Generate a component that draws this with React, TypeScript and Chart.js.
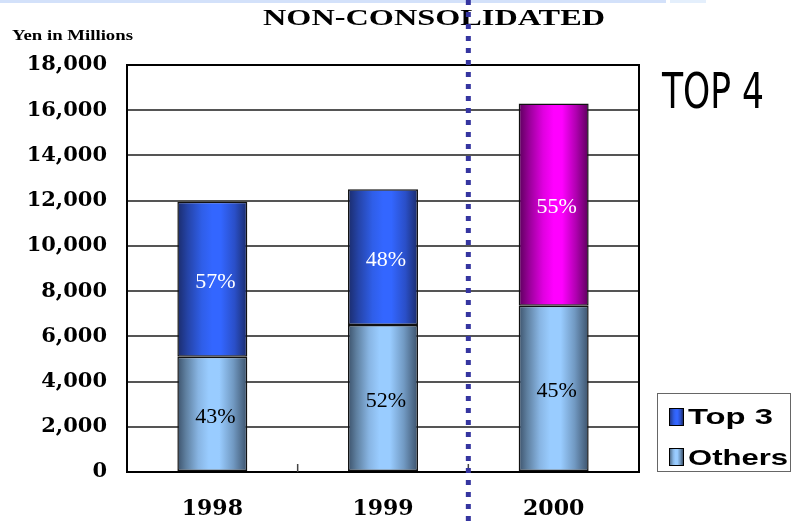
import React, { useEffect, useRef } from "react";
import { Chart, registerables } from "chart.js";

Chart.register(...registerables);

const years = ["1998", "1999", "2000"];
const othersValues = [5100, 6500, 7350];
const top3Values = [6850, 6000, 8950];
const othersPct = ["43%", "52%", "45%"];
const top3Pct = ["57%", "48%", "55%"];
const seriesLabels = ["Others", "Top 3"];
const yTicksMax = 18000;
const yTickStep = 2000;
const titleText = "NON-CONSOLIDATED";
const unitText = "Yen in Millions";
const sideText = "TOP 4";

type Stop = [number, string];
const othersStops: Stop[] = [
  [0, "#3c526b"], [0.12, "#5e7f9f"], [0.3, "#88b5e3"], [0.45, "#99ccff"],
  [0.6, "#99ccff"], [0.8, "#7199c2"], [1, "#3c526b"],
];
const top3Stops: Stop[] = [
  [0, "#1b2c6b"], [0.15, "#2544a8"], [0.35, "#2f5ee8"], [0.5, "#3366ff"],
  [0.62, "#3366ff"], [0.82, "#2a4fc8"], [1, "#1b2c6b"],
];
const magentaStops: Stop[] = [
  [0, "#5c005c"], [0.15, "#990099"], [0.35, "#e000e0"], [0.5, "#ff00ff"],
  [0.62, "#ff00ff"], [0.82, "#b000b0"], [1, "#5c005c"],
];

const CAT_PCT = 0.41;

function gradientFor(chart: any, x0: number, x1: number, stops: Stop[]) {
  const g = chart.ctx.createLinearGradient(x0, 0, x1, 0);
  stops.forEach(([o, c]) => g.addColorStop(o, c));
  return g;
}

function barGradient(c: any, stopsFn: (i: number) => Stop[]) {
  const chart = c.chart;
  const xs = chart.scales && chart.scales.x;
  const stops = stopsFn(c.dataIndex);
  if (!xs || xs.width === undefined || !chart.chartArea) return stops[3][1];
  const cx = xs.getPixelForValue(c.dataIndex);
  const w = (xs.width / years.length) * CAT_PCT;
  return gradientFor(chart, cx - w / 2, cx + w / 2, stops);
}

function drawStretched(ctx: CanvasRenderingContext2D, text: string, font: string, left: number, baseline: number, width: number) {
  ctx.save();
  ctx.font = font;
  ctx.textAlign = "left";
  ctx.textBaseline = "alphabetic";
  const m = ctx.measureText(text).width;
  ctx.translate(left, baseline);
  ctx.scale(width / m, 1);
  ctx.fillText(text, 0, 0);
  ctx.restore();
}

const decorPlugin = {
  id: "decor",
  beforeDraw(chart: any) {
    const ctx = chart.ctx;
    ctx.save();
    ctx.fillStyle = "#ffffff";
    ctx.fillRect(0, 0, chart.width, chart.height);
    ctx.fillStyle = "#d3e1fa";
    ctx.fillRect(0, 0, 666, 3);
    ctx.fillStyle = "#e4effc";
    ctx.fillRect(670, 0, 36, 3);
    ctx.restore();
  },
  afterDatasetsDraw(chart: any) {
    const ctx = chart.ctx;
    const { left, right, top, bottom } = chart.chartArea;
    const xs = chart.scales.x;
    ctx.save();
    ctx.strokeStyle = "#000";
    ctx.lineWidth = 2;
    ctx.beginPath();
    ctx.moveTo(left, top);
    ctx.lineTo(right, top);
    ctx.lineTo(right, bottom);
    ctx.stroke();
    ctx.strokeStyle = "#444";
    ctx.lineWidth = 1.5;
    for (let i = 0; i < years.length - 1; i++) {
      const bx = (xs.getPixelForValue(i) + xs.getPixelForValue(i + 1)) / 2;
      ctx.beginPath();
      ctx.moveTo(bx, bottom);
      ctx.lineTo(bx, bottom - 8);
      ctx.stroke();
    }
    ctx.font = "22px 'Liberation Serif', 'Times New Roman', serif";
    ctx.textAlign = "center";
    ctx.textBaseline = "middle";
    const pctSets = [othersPct, top3Pct];
    const colors = ["#000000", "#ffffff"];
    chart.data.datasets.forEach((_: any, di: number) => {
      const meta = chart.getDatasetMeta(di);
      meta.data.forEach((el: any, i: number) => {
        const cy = (el.y + el.base) / 2;
        ctx.fillStyle = colors[di];
        ctx.fillText(pctSets[di][i], el.x + 3, cy + 3);
      });
    });
    ctx.restore();
  },
  afterDraw(chart: any) {
    const ctx = chart.ctx;
    const xs = chart.scales.x;
    ctx.save();
    ctx.fillStyle = "#000";
    drawStretched(ctx, titleText, "bold 23px 'Liberation Serif', serif", 263, 25, 342);
    drawStretched(ctx, unitText, "bold 15px 'Liberation Serif', serif", 12, 40, 121);
    drawStretched(ctx, sideText, "50px 'Liberation Sans Narrow', 'DejaVu Sans Condensed', sans-serif", 662, 108, 102);

    ctx.strokeStyle = "#666";
    ctx.lineWidth = 1;
    ctx.strokeRect(657.5, 393.5, 133, 78);
    const items = [
      { label: chart.data.datasets[1].label, stops: top3Stops, y: 408, base: 424, w: 85 },
      { label: chart.data.datasets[0].label, stops: othersStops, y: 448, base: 465, w: 100 },
    ];
    items.forEach((it) => {
      ctx.fillStyle = gradientFor(chart, 669, 683, it.stops);
      ctx.fillRect(669, it.y, 14, 17);
      ctx.strokeStyle = "#000";
      ctx.lineWidth = 1;
      ctx.strokeRect(669.5, it.y + 0.5, 14, 17);
      ctx.fillStyle = "#000";
      drawStretched(ctx, it.label, "bold 22px 'Liberation Sans', Arial, sans-serif", 688, it.base, it.w);
    });

    const sx = (xs.getPixelForValue(1) + xs.getPixelForValue(2)) / 2;
    ctx.strokeStyle = "#3535a0";
    ctx.lineWidth = 5;
    ctx.setLineDash([5, 7]);
    ctx.beginPath();
    ctx.moveTo(sx, 0);
    ctx.lineTo(sx, chart.height);
    ctx.stroke();
    ctx.restore();
  },
};

export default function App() {
  const ref = useRef<HTMLCanvasElement | null>(null);
  useEffect(() => {
    if (!ref.current) return;
    const chart = new Chart(ref.current, {
      type: "bar",
      data: {
        labels: years,
        datasets: [
          {
            label: seriesLabels[0],
            data: othersValues,
            backgroundColor: (c: any) => barGradient(c, () => othersStops),
            borderColor: "#111",
            borderWidth: 1.5,
            borderSkipped: false,
          },
          {
            label: seriesLabels[1],
            data: top3Values,
            backgroundColor: (c: any) => barGradient(c, (i) => (i === 2 ? magentaStops : top3Stops)),
            borderColor: "#111",
            borderWidth: 1.5,
            borderSkipped: false,
          },
        ],
      },
      options: {
        responsive: false,
        animation: false,
        datasets: { bar: { barPercentage: 1, categoryPercentage: CAT_PCT } },
        layout: { padding: { left: 0, top: 65, right: 155, bottom: 0 } },
        plugins: {
          legend: { display: false },
          title: { display: false },
          tooltip: { enabled: false },
        },
        scales: {
          x: {
            stacked: true,
            grid: { display: false, drawTicks: false },
            border: { display: true, color: "#000", width: 2 },
            ticks: {
              color: "#000",
              padding: 24,
              font: { family: "'DejaVu Serif', serif", weight: "bold", size: 22 },
            },
            afterFit: (s: any) => { s.height = 54; },
          },
          y: {
            stacked: true,
            min: 0,
            max: yTicksMax,
            grid: { color: "#555", lineWidth: 2, drawTicks: false },
            border: { display: true, color: "#000", width: 2 },
            ticks: {
              stepSize: yTickStep,
              color: "#000",
              padding: 20,
              font: { family: "'DejaVu Serif', serif", weight: "bold", size: 21 },
              callback: (v: any) => Number(v).toLocaleString("en-US"),
            },
            afterFit: (s: any) => { s.width = 127; },
          },
        },
      },
      plugins: [decorPlugin],
    });
    return () => chart.destroy();
  }, []);
  return (
    <div style={{ position: "absolute", left: 0, top: 0, width: 794, height: 526 }}>
      <canvas ref={ref} width={794} height={526} />
    </div>
  );
}
